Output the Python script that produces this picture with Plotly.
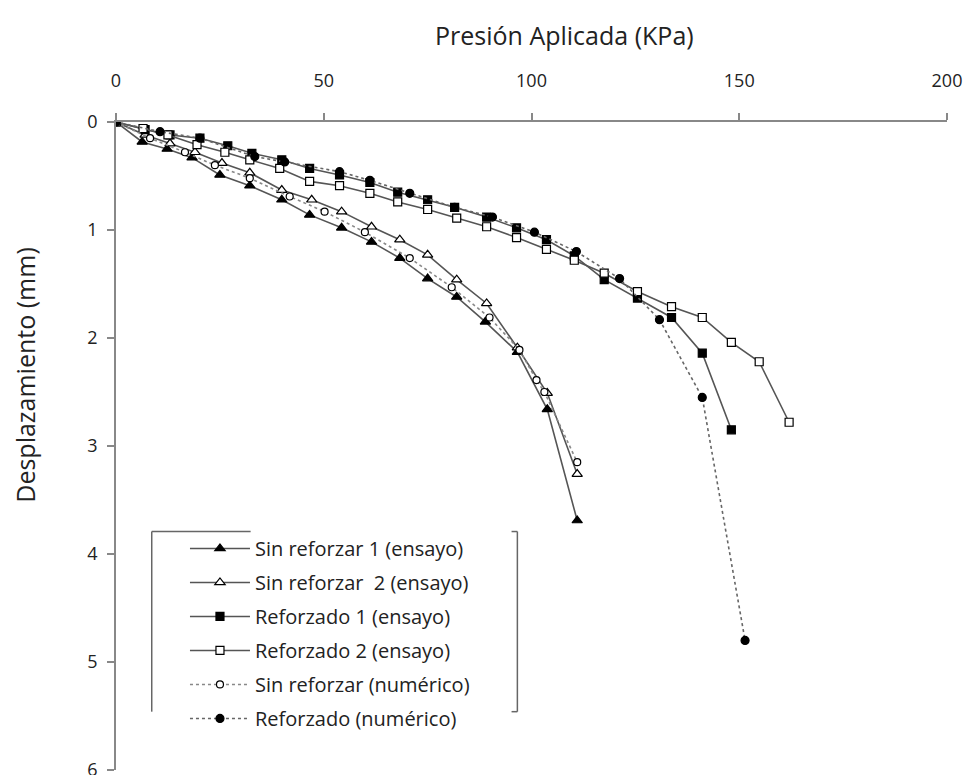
import plotly.graph_objects as go

# Presión aplicada (kPa) vs desplazamiento (mm)
sr1_x = [0, 6.3, 12.3, 18.3, 25.0, 32.2, 39.9, 46.6, 54.3, 61.5, 68.3, 75.0, 82.0, 88.9, 96.6, 103.8, 111.0]
sr1_y = [0, 0.185, 0.25, 0.33, 0.49, 0.59, 0.72, 0.86, 0.98, 1.11, 1.26, 1.45, 1.62, 1.85, 2.13, 2.66, 3.69]

sr2_x = [0, 7.0, 13.0, 19.0, 25.5, 32.2, 39.9, 47.1, 54.3, 61.5, 68.3, 75.0, 82.0, 89.2, 96.6, 103.8, 111.0]
sr2_y = [0, 0.12, 0.20, 0.28, 0.38, 0.47, 0.63, 0.72, 0.83, 0.97, 1.09, 1.23, 1.46, 1.68, 2.09, 2.51, 3.26]

r1_x = [0, 7.0, 13.0, 20.2, 26.9, 32.7, 39.9, 46.6, 53.8, 61.1, 67.8, 75.0, 81.5, 89.2, 96.4, 103.6, 110.3, 117.5, 125.5, 133.7, 141.1, 148.1]
r1_y = [0, 0.07, 0.12, 0.15, 0.22, 0.29, 0.35, 0.43, 0.49, 0.56, 0.65, 0.72, 0.79, 0.88, 0.98, 1.09, 1.24, 1.46, 1.63, 1.81, 2.14, 2.85]

r2_x = [0, 6.5, 12.5, 19.5, 26.2, 32.2, 39.4, 46.6, 53.8, 61.1, 67.8, 75.0, 82.0, 89.2, 96.4, 103.6, 110.3, 117.5, 125.5, 133.7, 141.1, 148.1, 154.8, 162.0]
r2_y = [0, 0.06, 0.12, 0.21, 0.28, 0.35, 0.43, 0.55, 0.59, 0.66, 0.74, 0.81, 0.89, 0.97, 1.07, 1.18, 1.28, 1.40, 1.57, 1.71, 1.81, 2.04, 2.22, 2.78]

srn_x = [0, 8.2, 16.6, 23.8, 32.2, 41.8, 50.2, 59.9, 70.7, 80.8, 89.9, 97.1, 101.2, 103.1, 111.0]
srn_y = [0, 0.15, 0.28, 0.40, 0.52, 0.69, 0.83, 1.02, 1.26, 1.53, 1.81, 2.11, 2.39, 2.50, 3.15]

rn_x = [0, 10.6, 20.2, 33.4, 40.6, 53.8, 61.1, 70.7, 81.5, 90.6, 100.7, 110.8, 121.2, 130.8, 141.1, 151.4]
rn_y = [0, 0.09, 0.15, 0.32, 0.37, 0.46, 0.54, 0.66, 0.79, 0.88, 1.02, 1.20, 1.45, 1.83, 2.55, 4.80]

names = ["Sin reforzar 1 (ensayo)", "Sin reforzar  2 (ensayo)", "Reforzado 1 (ensayo)",
         "Reforzado 2 (ensayo)", "Sin reforzar (numérico)", "Reforzado (numérico)"]
x_title = "Presión Aplicada (KPa)"
y_title = "Desplazamiento (mm)"

FONT = "Open Sans, Noto Sans, sans-serif"

fig = go.Figure()

def add(x, y, name, symbol, fill, dash, lcolor, size, group):
    fig.add_trace(go.Scatter(
        x=x, y=y, name=name, mode="lines+markers", legendgroup=group,
        line=dict(color=lcolor, width=1.6, dash=dash),
        marker=dict(symbol=symbol, size=size, color=fill, line=dict(color="black", width=1.2)),
    ))

add(sr1_x, sr1_y, names[0], "triangle-up", "black", "solid", "#555", 9, "a")
add(sr2_x, sr2_y, names[1], "triangle-up", "white", "solid", "#555", 9, "b")
add(r1_x, r1_y, names[2], "square", "black", "solid", "#555", 8, "c")
add(r2_x, r2_y, names[3], "square", "white", "solid", "#555", 8, "d")
add(srn_x, srn_y, names[4], "circle", "white", "dot", "#888", 7, "e")
add(rn_x, rn_y, names[5], "circle", "black", "dot", "#666", 8, "f")

fig.update_layout(
    width=976, height=775,
    margin=dict(l=108, r=37, t=114, b=13, autoexpand=False),
    plot_bgcolor="white", paper_bgcolor="white",
    font=dict(family=FONT, color="#222", size=16),
    showlegend=True,
    legend=dict(x=0.083, y=0.372, xanchor="left", yanchor="top",
                bgcolor="rgba(0,0,0,0)", font=dict(size=20, family=FONT),
                tracegroupgap=5, itemwidth=60),
    xaxis=dict(side="top", range=[0, 200], dtick=50, showgrid=False, zeroline=False,
               showline=True, linecolor="#888", linewidth=1.5,
               ticks="outside", ticklen=7, tickcolor="#888", tickwidth=1.5,
               ticklabelstandoff=19, tickfont=dict(size=18)),
    yaxis=dict(range=[6, 0], dtick=1, showgrid=False, zeroline=False,
               showline=True, linecolor="#888", linewidth=1.5,
               ticks="outside", ticklen=7, tickcolor="#888", tickwidth=1.5,
               ticklabelstandoff=6, tickfont=dict(size=18)),
)

fig.add_annotation(text=x_title, xref="paper", yref="paper", x=0.54, y=1.0,
                   yshift=87, xanchor="center", yanchor="middle", showarrow=False,
                   font=dict(size=25))
fig.add_annotation(text=y_title, xref="paper", yref="paper", x=0.0, y=0.61,
                   xshift=-91, xanchor="center", yanchor="middle", showarrow=False,
                   textangle=-90, font=dict(size=25))

# legend bracket-style frame
frame = dict(type="line", xref="paper", yref="paper", line=dict(color="#666", width=1.5))
fig.add_shape(**frame, x0=0.043, x1=0.043, y0=0.09, y1=0.368)
fig.add_shape(**frame, x0=0.043, x1=0.162, y0=0.368, y1=0.368)
fig.add_shape(**frame, x0=0.483, x1=0.483, y0=0.09, y1=0.368)
fig.add_shape(**frame, x0=0.476, x1=0.483, y0=0.368, y1=0.368)
fig.add_shape(**frame, x0=0.476, x1=0.483, y0=0.09, y1=0.09)

fig.write_html("out.html")
